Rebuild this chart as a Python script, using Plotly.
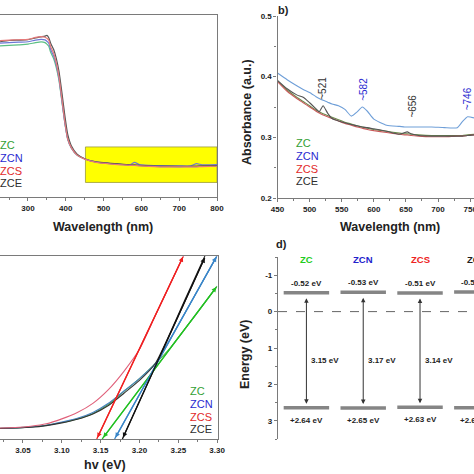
import plotly.graph_objects as go

W = H = 474
def px(x): return x / W
def py(y): return 1 - y / H

FONT = "Liberation Sans, Arial, sans-serif"
series = ["ZC", "ZCN", "ZCS", "ZCE"]
label_colors = {"ZC": "#33a033", "ZCN": "#2a2ad0", "ZCS": "#e22a2a", "ZCE": "#2e2e2e"}

# ---------------- panel a: UV-vis absorbance (arb. units) ----------------
a_wl = [226, 250, 275, 300, 320, 335, 345, 350, 355, 360, 368, 375, 382, 390, 398, 405,
        415, 430, 450, 480, 520, 560, 570, 582, 595, 620, 650, 700, 730, 746, 760, 800]
a_ZC = [0.830, 0.833, 0.836, 0.840, 0.848, 0.852, 0.848, 0.840, 0.828, 0.795, 0.760, 0.710,
        0.640, 0.520, 0.400, 0.318, 0.268, 0.230, 0.209, 0.191, 0.182, 0.176, 0.175, 0.174,
        0.172, 0.169, 0.167, 0.166, 0.167, 0.167, 0.168, 0.170]
a_ZCN = [0.845, 0.848, 0.851, 0.853, 0.862, 0.866, 0.863, 0.856, 0.845, 0.810, 0.775, 0.725,
         0.650, 0.525, 0.400, 0.318, 0.268, 0.230, 0.210, 0.193, 0.184, 0.178, 0.178, 0.190,
         0.178, 0.174, 0.172, 0.171, 0.171, 0.183, 0.177, 0.178]
a_ZCS = [0.859, 0.862, 0.864, 0.866, 0.877, 0.881, 0.878, 0.872, 0.862, 0.826, 0.790, 0.735,
         0.660, 0.533, 0.405, 0.320, 0.270, 0.230, 0.208, 0.190, 0.181, 0.175, 0.174, 0.173,
         0.171, 0.168, 0.166, 0.165, 0.166, 0.166, 0.167, 0.169]
a_ZCE = [0.853, 0.860, 0.862, 0.864, 0.874, 0.880, 0.884, 0.888, 0.875, 0.845, 0.810, 0.760,
         0.690, 0.570, 0.440, 0.345, 0.280, 0.235, 0.210, 0.193, 0.185, 0.178, 0.177, 0.176,
         0.174, 0.171, 0.170, 0.169, 0.169, 0.170, 0.171, 0.173]
a_zoom_box = dict(x0=452, x1=800, y0=0.08, y1=0.275)

# ---------------- panel b: zoomed absorbance ----------------
b_wl = [450, 465, 480, 490, 500, 510, 515, 521, 528, 535, 545, 555, 565, 574, 582, 590, 600,
        620, 640, 648, 652, 658, 670, 690, 710, 730, 738, 746, 756]
b_ZCN = [0.406, 0.395, 0.385, 0.379, 0.374, 0.367, 0.364, 0.361, 0.358, 0.355, 0.352, 0.346,
         0.335, 0.342, 0.350, 0.343, 0.330, 0.320, 0.318, 0.317, 0.317, 0.317, 0.317, 0.317,
         0.316, 0.316, 0.326, 0.334, 0.332]
b_ZCE = [0.394, 0.380, 0.370, 0.366, 0.357, 0.347, 0.342, 0.352, 0.340, 0.331, 0.327, 0.324,
         0.321, 0.319, 0.317, 0.316, 0.314, 0.310, 0.305, 0.308, 0.309, 0.306, 0.303, 0.302,
         0.302, 0.302, 0.302, 0.303, 0.304]
b_ZCS = [0.392, 0.376, 0.364, 0.357, 0.350, 0.343, 0.340, 0.337, 0.334, 0.331, 0.327, 0.323,
         0.320, 0.317, 0.315, 0.313, 0.311, 0.308, 0.305, 0.304, 0.304, 0.303, 0.302, 0.301,
         0.301, 0.302, 0.302, 0.303, 0.304]
b_ZC = [0.393, 0.378, 0.366, 0.359, 0.352, 0.345, 0.342, 0.339, 0.336, 0.333, 0.329, 0.325,
        0.322, 0.319, 0.317, 0.315, 0.313, 0.310, 0.307, 0.306, 0.306, 0.305, 0.304, 0.303,
        0.303, 0.303, 0.303, 0.304, 0.305]
b_peaks = [("~521", 521, 0.358, "ZCE"), ("~582", 584, 0.357, "ZCN"),
           ("~656", 660, 0.329, "ZCE"), ("~746", 745, 0.342, "ZCN")]

# ---------------- panel c: Tauc plot ----------------
c_hv = [3.02, 3.04, 3.06, 3.08, 3.10, 3.12, 3.14, 3.16, 3.18, 3.20, 3.22, 3.24, 3.26, 3.28, 3.30]
c_ZC = [0.058, 0.061, 0.066, 0.075, 0.090, 0.110, 0.140, 0.190, 0.260, 0.330, 0.410, 0.500,
        0.610, 0.720, 0.835]
c_ZCN = [0.058, 0.061, 0.066, 0.075, 0.092, 0.113, 0.145, 0.195, 0.262, 0.330, 0.410, 0.550,
         0.700, 0.850, 1.000]
c_ZCS = [0.060, 0.063, 0.070, 0.083, 0.110, 0.145, 0.195, 0.270, 0.370, 0.490, 0.670, 0.850,
         1.030, 1.200, 1.400]
c_ZCE = [0.057, 0.060, 0.064, 0.073, 0.088, 0.108, 0.137, 0.183, 0.250, 0.320, 0.410, 0.585,
         0.775, 0.960, 1.150]
# tangent (extrapolation) lines: intercept -> end point
c_tan_x0 = {"ZC": 3.152, "ZCN": 3.168, "ZCS": 3.145, "ZCE": 3.178}
c_tan_x1 = {"ZC": 3.299, "ZCN": 3.299, "ZCS": 3.256, "ZCE": 3.284}
c_tan_y1 = {"ZC": 0.83, "ZCN": 0.995, "ZCS": 0.995, "ZCE": 0.99}

# ---------------- panel d: band positions ----------------
d_cb = [-0.52, -0.53, -0.51, -0.54]
d_vb = [2.64, 2.65, 2.63, 2.64]
d_gap = [3.15, 3.17, 3.14, 3.18]
d_cb_text = ["-0.52 eV", "-0.53 eV", "-0.51 eV", "-0.54 eV"]
d_vb_text = ["+2.64 eV", "+2.65 eV", "+2.63 eV", "+2.64 eV"]
d_ticks = [-1, 0, 1, 2, 3]
D_XR = [-0.5, 2.95]
D_DOM = [px(278), 1]
D_HEADER_Y = -1.42
D_GAP_Y = 1.33

fig = go.Figure()

a_cols = {"ZC": "#5cbf84", "ZCN": "#6c78d6", "ZCS": "#e67a7a", "ZCE": "#555555"}
for name, ys in [("ZC", a_ZC), ("ZCN", a_ZCN), ("ZCE", a_ZCE), ("ZCS", a_ZCS)]:
    fig.add_trace(go.Scatter(x=a_wl, y=ys, mode="lines", line=dict(color=a_cols[name], width=1.2, shape="spline", smoothing=0.5),
                             xaxis="x", yaxis="y", showlegend=False))

b_cols = {"ZC": "#6a8a4a", "ZCN": "#6f9fd8", "ZCS": "#c85a5a", "ZCE": "#555555"}
for name, ys in [("ZC", b_ZC), ("ZCS", b_ZCS), ("ZCE", b_ZCE), ("ZCN", b_ZCN)]:
    fig.add_trace(go.Scatter(x=b_wl, y=ys, mode="lines", line=dict(color=b_cols[name], width=1.1, shape="spline", smoothing=0.5),
                             xaxis="x2", yaxis="y2", showlegend=False))

c_cols = {"ZC": "#4caf50", "ZCN": "#4a80c0", "ZCS": "#e0607a", "ZCE": "#333333"}
c_tan_cols = {"ZC": "#22c022", "ZCN": "#3a86c8", "ZCS": "#f02020", "ZCE": "#111111"}
for name, ys in [("ZC", c_ZC), ("ZCN", c_ZCN), ("ZCE", c_ZCE), ("ZCS", c_ZCS)]:
    fig.add_trace(go.Scatter(x=c_hv, y=ys, mode="lines", line=dict(color=c_cols[name], width=1.1, shape="spline", smoothing=0.6),
                             xaxis="x3", yaxis="y3", showlegend=False))
for name in series:
    fig.add_trace(go.Scatter(x=[c_tan_x0[name], c_tan_x1[name]], y=[0, c_tan_y1[name]], mode="lines",
                             line=dict(color=c_tan_cols[name], width=1.3), xaxis="x3", yaxis="y3", showlegend=False))

idx = list(range(len(series)))
for i in idx:
    for lvl in (d_cb[i], d_vb[i]):
        fig.add_trace(go.Scatter(x=[i - 0.4, i + 0.4], y=[lvl, lvl], mode="lines",
                                 line=dict(color="#858585", width=3.5), xaxis="x4", yaxis="y4", showlegend=False))

tickfont = dict(family=FONT, size=8, color="#222", weight="bold")
base = dict(showgrid=False, zeroline=False, showline=True, linecolor="#7a7a7a", linewidth=1.2, automargin=False,
            ticks="outside", ticklen=3, tickcolor="#7a7a7a", tickfont=tickfont, ticklabeloverflow="allow")

layout = dict(
    width=W, height=H, margin=dict(l=0, r=0, t=0, b=0, autoexpand=False),
    paper_bgcolor="white", plot_bgcolor="white", font=dict(family=FONT), showlegend=False,
    xaxis=dict(base, domain=[0, px(217)], range=[226, 800], anchor="y", dtick=100, mirror=True,
               minor=dict(ticks="outside", ticklen=2, dtick=50, tickcolor="#7a7a7a")),
    yaxis=dict(base, domain=[py(197), py(15)], range=[0, 1], anchor="x", side="right", ticks="", showticklabels=False),
    xaxis2=dict(base, domain=[px(277.5), 1], range=[450, 756], anchor="y2", dtick=50,
                minor=dict(ticks="outside", ticklen=2, dtick=25, tickcolor="#7a7a7a")),
    yaxis2=dict(base, domain=[py(198), py(16)], range=[0.2, 0.5], anchor="x2", dtick=0.1, tickformat=".1f",
                minor=dict(ticks="outside", ticklen=2, dtick=0.05, tickcolor="#7a7a7a")),
    xaxis3=dict(base, domain=[0, px(217.5)], range=[3.0204, 3.3005], anchor="y3", dtick=0.05, tick0=3.0,
                tickformat=".2f", mirror=True,
                minor=dict(ticks="outside", ticklen=2, dtick=0.025, tickcolor="#7a7a7a")),
    yaxis3=dict(base, domain=[py(439), py(256)], range=[0, 1], anchor="x3", side="right", ticks="", showticklabels=False),
    xaxis4=dict(domain=D_DOM, range=D_XR, anchor="y4", visible=False, automargin=False),
    yaxis4=dict(base, domain=[py(439), py(257)], range=[3.5, -1.5], anchor="x4",
                tickvals=d_ticks, ticktext=[str(t) for t in d_ticks],
                minor=dict(ticks="outside", ticklen=2, dtick=0.5, tickcolor="#7a7a7a")),
)

shapes = [
    dict(type="rect", xref="x", yref="y", layer="below", fillcolor="#ffff00",
         line=dict(color="#9a9a3a", width=0.8), **a_zoom_box),
    dict(type="line", xref="paper", yref="y4", x0=D_DOM[0], x1=1, y0=0, y1=0,
         line=dict(color="#666", width=1, dash="dash")),
]

ann = []
def text(t, x, y, size=12, color="#222", bold=True, angle=0, xanchor="center", yanchor="middle"):
    ann.append(dict(text=f"<b>{t}</b>" if bold else t, x=px(x), y=py(y), xref="paper", yref="paper",
                    showarrow=False, textangle=angle, xanchor=xanchor, yanchor=yanchor,
                    font=dict(family=FONT, size=size, color=color)))

text("Wavelength (nm)", 103, 227, 12.5)
text("Wavelength (nm)", 390, 227, 12.5)
text("Absorbance (a.u.)", 247, 112, 12.5, angle=-90)
text("hv (eV)", 105, 465, 12.5)
text("Energy (eV)", 245, 355, 12.5, angle=-90)
text("b)", 283, 10, 11)
text("d)", 281, 244, 11)

for k, name in enumerate(series):
    text(name, -2, 145 + 12.8 * k, 11, label_colors[name], bold=False, xanchor="left")
    text(name, 294, 143 + 12.8 * k, 11, label_colors[name], bold=False, xanchor="left")
    text(name, 188, 391 + 12.8 * k, 11, label_colors[name], bold=False, xanchor="left")

for lab, x, y, who in b_peaks:
    ann.append(dict(text=lab, x=x, y=y, xref="x2", yref="y2", showarrow=False, textangle=-90,
                    xanchor="center", yanchor="bottom", font=dict(family=FONT, size=10, color=label_colors[who] if who == "ZCN" else "#333")))

for name in series:
    ann.append(dict(text="", x=c_tan_x1[name], y=c_tan_y1[name], ax=c_tan_x0[name], ay=0,
                    xref="x3", yref="y3", axref="x3", ayref="y3", showarrow=True,
                    arrowhead=2, startarrowhead=2, arrowside="end+start", arrowsize=0.8, startarrowsize=0.8,
                    arrowwidth=1.2, arrowcolor=c_tan_cols[name]))

def dpaper(i):
    # x position of category i in paper units, through panel d's x-axis mapping
    return D_DOM[0] + (i - D_XR[0]) / (D_XR[1] - D_XR[0]) * (D_DOM[1] - D_DOM[0])

d_hdr_cols = ["#22cc22", "#2222cc", "#ee2222", "#222222"]
for i in idx:
    bf = dict(family=FONT, size=8, color="#222")
    ann.append(dict(text=f"<b>{series[i]}</b>", x=dpaper(i), y=D_HEADER_Y, xref="paper", yref="y4", showarrow=False,
                    xanchor="center", yanchor="middle", font=dict(family=FONT, size=9.5, color=d_hdr_cols[i])))
    ann.append(dict(text=f"<b>{d_cb_text[i]}</b>", x=dpaper(i), y=d_cb[i], xref="paper", yref="y4", showarrow=False,
                    xanchor="center", yanchor="bottom", yshift=3, font=bf))
    ann.append(dict(text=f"<b>{d_vb_text[i]}</b>", x=dpaper(i), y=d_vb[i], xref="paper", yref="y4", showarrow=False,
                    xanchor="center", yanchor="top", yshift=-6, font=bf))
    ann.append(dict(text=f"<b>{d_gap[i]:.2f} eV</b>", x=dpaper(i), y=D_GAP_Y, xref="paper", yref="y4", showarrow=False,
                    xanchor="left", yanchor="middle", xshift=3, font=bf))
    if i < 3:
        ann.append(dict(text="", x=i, y=d_vb[i], ax=i, ay=d_cb[i], xref="x4", yref="y4", axref="x4", ayref="y4",
                        showarrow=True, arrowhead=2, startarrowhead=2, arrowside="end+start", arrowsize=0.9,
                        startarrowsize=0.9, arrowwidth=1, arrowcolor="#333", standoff=4, startstandoff=4))

layout["shapes"] = shapes
layout["annotations"] = ann
fig.update_layout(**layout)
fig.write_html("out.html", config={"displayModeBar": False},
               post_script="document.body.style.margin='0';document.body.style.padding='0';")
